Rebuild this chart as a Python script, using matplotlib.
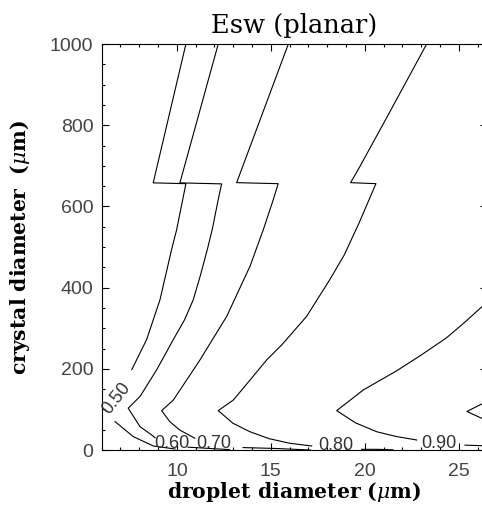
import numpy as np
import matplotlib
matplotlib.use('Agg')
import matplotlib.pyplot as plt
from matplotlib.ticker import MultipleLocator

nan = np.nan

# contour lines (droplet um, crystal um); nan = gap for a label
e50_x = [10.48, 8.74, 10.48, 10.31, 9.99, 9.72, 9.10, 8.39, 7.60, nan, 6.71, 7.68, 8.74, 9.90]
e50_y = [1000, 658, 656, 617, 543, 494, 370, 272, 198, nan, 70, 33, 10, 2.5]

e60_x = [12.20, 10.16, 12.38, 12.20, 11.88, 11.62, 11.25, 10.87, 10.40, 9.81, 8.93, 8.04, 7.41, 8.04, 8.66, 8.84, nan, 10.59, 12.80]
e60_y = [1000, 658, 655.5, 617, 543, 494, 430, 370, 320, 272, 198, 132, 103, 57.5, 37, 30, nan, 7, 1]

e70_x = [15.93, 13.18, 15.39, 15.13, 14.60, 13.89, 12.65, 11.23, 9.81, 9.19, 9.62, 10.16, 10.96, nan, 13.52, 15.32, 17.10]
e70_y = [1000, 658.5, 656, 617, 543, 452.6, 329, 222, 123, 97, 70, 49, 29, nan, 6, 3.7, 0]

e80_x = [23.29, 21.12, 19.65, 19.24, 20.59, 19.70, 18.90, 18.14, 16.90, 15.60, 14.78, 13.85, 13.00, 12.20, 12.98, 13.89, 14.90, 16.02, 17.17, nan, 19.83, 20.63, 21.50]
e80_y = [1000, 815, 691, 658.5, 656, 560, 480, 420, 329, 260, 222, 170, 123, 97, 66, 45, 28, 16.5, 10, nan, 1.7, 1.7, 0.5]

e90_x = [26.92, 26.23, 25.30, 24.35, 23.00, 21.69, 19.92, 18.50, 19.50, 20.63, 21.70, 22.76, nan, 25.33, 26.64]
e90_y = [380, 353, 314, 276.5, 234, 195, 148, 97, 67, 45, 33, 24.7, nan, 12, 10]

e100_x = [26.64, 25.43, 26.64]
e100_y = [123, 95, 69]

label_text = ['0.50', '0.60', '0.70', '0.80', '0.90']
label_x = [6.80, 9.71, 11.97, 18.46, 23.94]
label_y = [128, 16, 16, 11, 17]
label_rot = [52, 0, 0, 0, 0]

plt.rcParams['mathtext.fontset'] = 'dejavuserif'

fig = plt.figure(figsize=(4.82, 5.07), dpi=100)
ax = fig.add_axes([0.211, 0.1124, 0.7994, 0.8008])

for xs, ys in [(e50_x, e50_y), (e60_x, e60_y), (e70_x, e70_y),
               (e80_x, e80_y), (e90_x, e90_y), (e100_x, e100_y)]:
    ax.plot(xs, ys, color='black', lw=0.8)

for t, x, y, r in zip(label_text, label_x, label_y, label_rot):
    ax.text(x, y, t, rotation=r, ha='center', va='center', fontsize=13,
            family='Liberation Sans', color='#333333')

ax.set_xlim(6, 26.5)
ax.set_ylim(0, 1000)
ax.xaxis.set_major_locator(MultipleLocator(5))
ax.xaxis.set_minor_locator(MultipleLocator(1))
ax.yaxis.set_major_locator(MultipleLocator(200))
ax.yaxis.set_minor_locator(MultipleLocator(50))
ax.tick_params(which='both', direction='in', top=True, right=True, width=0.8)
ax.tick_params(which='major', length=4.8)
ax.tick_params(which='minor', length=2.2)
ax.tick_params(axis='x', pad=9.5)
ax.tick_params(axis='y', pad=6)
for lab in ax.get_xticklabels() + ax.get_yticklabels():
    lab.set_family('Liberation Sans')
    lab.set_fontsize(14)
    lab.set_color('#444444')

ax.set_title('Esw (planar)', family='DejaVu Serif', fontsize=18.5, pad=8)
ax.set_xlabel(r'droplet diameter ($\mu$m)', family='DejaVu Serif',
              fontweight='bold', fontsize=14.7, labelpad=0)
ax.set_ylabel(r'crystal diameter  ($\mu$m)', family='DejaVu Serif',
              fontweight='bold', fontsize=14.7, labelpad=13)

fig.savefig('out.png', dpi=100)
